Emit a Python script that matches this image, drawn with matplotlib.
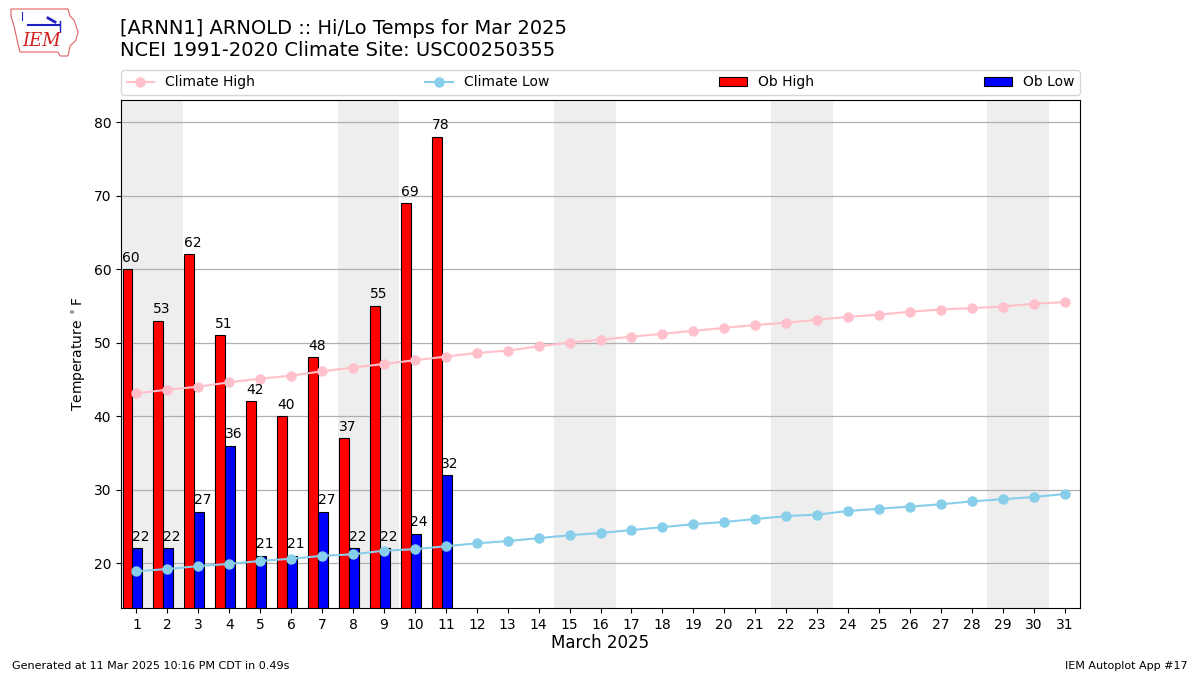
import matplotlib
matplotlib.use("Agg")
import matplotlib.pyplot as plt
from matplotlib.patches import Patch, Polygon
from matplotlib.lines import Line2D
import numpy as np

days = list(range(1, 32))
clim_high = [43.1, 43.6, 44.0, 44.6, 45.1, 45.5, 46.1, 46.6, 47.1, 47.6, 48.1, 48.6,
             48.9, 49.5, 50.0, 50.4, 50.8, 51.2, 51.6, 52.0, 52.4, 52.7, 53.1, 53.5,
             53.8, 54.2, 54.5, 54.7, 54.9, 55.3, 55.5]
clim_low = [18.9, 19.2, 19.6, 19.9, 20.3, 20.6, 21.0, 21.2, 21.7, 21.9, 22.3, 22.7,
            23.0, 23.4, 23.8, 24.1, 24.5, 24.9, 25.3, 25.6, 26.0, 26.4, 26.6, 27.1,
            27.4, 27.7, 28.0, 28.4, 28.7, 29.0, 29.4]
ob_days = list(range(1, 12))
ob_high = [60, 53, 62, 51, 42, 40, 48, 37, 55, 69, 78]
ob_low = [22, 22, 27, 36, 21, 21, 27, 22, 22, 24, 32]
weekend_starts = [1, 8, 15, 22, 29]
tick_labels = [str(d) for d in days]

fig = plt.figure(figsize=(12, 6.75), dpi=100)
ax = fig.add_axes([121/1200, 67/675, 959/1200, 508/675])

for w in weekend_starts:
    ax.axvspan(w - 0.5, w + 1.5, color="#eeeeee", zorder=0, lw=0)

od = np.array(ob_days)
bw = 0.32
ax.bar(od - 0.29, ob_high, width=bw, color="red", edgecolor="black", lw=0.8, zorder=2)
ax.bar(od + 0.03, ob_low, width=bw, color="blue", edgecolor="black", lw=0.8, zorder=2)
for d, h, l in zip(ob_days, ob_high, ob_low):
    ax.text(d - 0.17, h + 0.6, str(h), ha="center", va="bottom", fontsize=10, zorder=4)
    ax.text(d + 0.14, l + 0.6, str(l), ha="center", va="bottom", fontsize=10, zorder=4)

ax.plot(days, clim_high, color="pink", marker="o", ms=6.5, lw=1.5, zorder=3)
ax.plot(days, clim_low, color="skyblue", marker="o", ms=6.5, lw=1.5, zorder=3)

ax.set_xlim(0.5, 31.5)
ax.set_ylim(min(clim_low) - 5, max(ob_high) + 5)
ax.set_xticks(days)
ax.set_xticklabels(tick_labels)
ax.set_yticks([20, 30, 40, 50, 60, 70, 80])
ax.grid(axis="y", color="#b0b0b0", lw=0.9, zorder=1)
ax.set_axisbelow(True)
ax.set_ylabel(r"Temperature $^\circ$F")
ax.set_xlabel("March 2025", fontsize=12, labelpad=2)

handles = [
    Line2D([], [], color="pink", marker="o", ms=6.5, lw=1.5, label="Climate High"),
    Line2D([], [], color="skyblue", marker="o", ms=6.5, lw=1.5, label="Climate Low"),
    Patch(facecolor="red", edgecolor="black", lw=0.8, label="Ob High"),
    Patch(facecolor="blue", edgecolor="black", lw=0.8, label="Ob Low"),
]
ax.legend(handles=handles, loc="lower left", bbox_to_anchor=(0, 1.01, 1, 0.049),
          mode="expand", ncol=4, borderaxespad=0, fontsize=10)

fig.text(120/1200, 1 - 19/675,
         "[ARNN1] ARNOLD :: Hi/Lo Temps for Mar 2025\nNCEI 1991-2020 Climate Site: USC00250355",
         fontsize=14, va="top", ha="left")

fig.text(12/1200, 4/675, "Generated at 11 Mar 2025 10:16 PM CDT in 0.49s", fontsize=8, va="bottom")
fig.text(1188/1200, 4/675, "IEM Autoplot App #17", fontsize=8, ha="right", va="bottom")

# simple logo
lax = fig.add_axes([8/1200, 1 - 60/675, 72/1200, 54/675])
lax.set_xlim(0, 72)
lax.set_ylim(54, 0)
lax.axis("off")
outline = [(3, 3), (60, 3), (62, 10), (66, 14), (70, 26), (68, 34), (62, 40),
           (60, 50), (52, 50), (50, 46), (12, 46), (10, 38), (6, 20), (3, 10)]
lax.add_patch(Polygon(outline, closed=True, fill=False, edgecolor="#e06060", lw=0.8))
lax.plot([20, 52], [19, 19], color="#2020c0", lw=1.5)
lax.plot([40, 47], [12, 16], color="#2020c0", lw=2)
lax.plot([52, 52], [15, 26], color="#2020c0", lw=1)
lax.plot([14, 14], [6, 14], color="#2020c0", lw=0.8)
lax.text(14, 40, "IEM", color="#d02020", fontsize=13, family="DejaVu Serif",
         style="italic")

fig.savefig("out.png", dpi=100)
